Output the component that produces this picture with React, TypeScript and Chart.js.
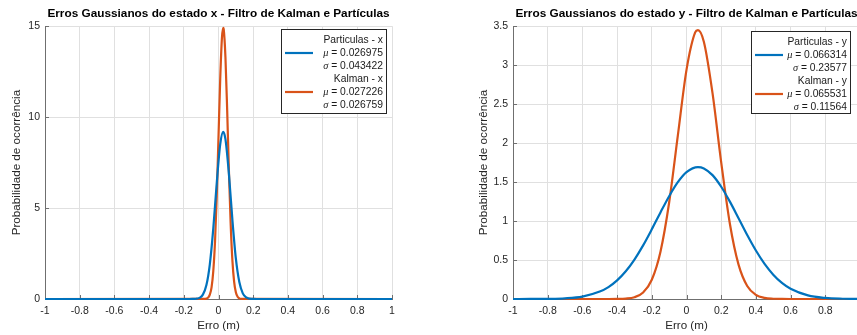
import React, { useEffect, useRef } from "react";
import { Chart, registerables } from "chart.js";

Chart.register(...registerables);

const FONT = "'Liberation Sans', Arial, Helvetica, sans-serif";
const BLUE = "#0072BD";
const ORANGE = "#D95319";

// ---------- Left chart (state x) ----------
const titleX = "Erros Gaussianos do estado x - Filtro de Kalman e Partículas";
const partXerr = [-1, -0.17, -0.15, -0.13, -0.11, -0.09, -0.07, -0.05, -0.03, -0.01, 0.01, 0.027, 0.04, 0.06, 0.08, 0.1, 0.12, 0.14, 0.16, 0.18, 0.2, 0.22, 1];
const partXprob = [0, 0.0003, 0.002, 0.013, 0.063, 0.24, 0.75, 1.91, 3.88, 6.39, 8.51, 9.19, 8.79, 6.88, 4.36, 2.23, 0.93, 0.31, 0.084, 0.018, 0.003, 0.0004, 0];
const kalXerr = [-1, -0.08, -0.07, -0.06, -0.05, -0.04, -0.03, -0.02, -0.01, 0, 0.01, 0.02, 0.027, 0.03, 0.04, 0.05, 0.06, 0.07, 0.08, 0.09, 0.1, 0.11, 0.12, 0.13, 0.14, 1];
const kalXprob = [0, 0.004, 0.02, 0.076, 0.235, 0.64, 1.54, 3.16, 5.68, 8.91, 12.13, 14.38, 14.91, 14.83, 13.3, 10.38, 7.05, 4.16, 2.14, 0.96, 0.37, 0.125, 0.037, 0.01, 0.002, 0];
const legendNamesX = ["Particulas - x", "Kalman - x"];
const legendMuX = ["0.026975", "0.027226"];
const legendSigmaX = ["0.043422", "0.026759"];
const yMaxX = 15;
const yStepX = 5;

// ---------- Right chart (state y) ----------
const titleY = "Erros Gaussianos do estado y - Filtro de Kalman e Partículas";
const partYerr = [-1, -0.9, -0.8, -0.7, -0.6, -0.5, -0.45, -0.4, -0.35, -0.3, -0.25, -0.2, -0.15, -0.1, -0.05, 0, 0.066, 0.1, 0.15, 0.2, 0.25, 0.3, 0.35, 0.4, 0.45, 0.5, 0.55, 0.6, 0.7, 0.8, 0.9, 1];
const partYprob = [0.0001, 0.0004, 0.002, 0.0087, 0.031, 0.095, 0.153, 0.239, 0.356, 0.506, 0.688, 0.894, 1.111, 1.319, 1.498, 1.627, 1.692, 1.675, 1.589, 1.44, 1.249, 1.036, 0.821, 0.622, 0.45, 0.312, 0.206, 0.131, 0.0457, 0.0134, 0.0033, 0.0007];
const kalYerr = [-1, -0.45, -0.4, -0.35, -0.3, -0.25, -0.2, -0.15, -0.1, -0.05, 0, 0.05, 0.066, 0.1, 0.15, 0.2, 0.25, 0.3, 0.35, 0.4, 0.45, 0.5, 0.55, 0.6, 1];
const kalYprob = [0, 0.0002, 0.001, 0.0054, 0.023, 0.083, 0.247, 0.607, 1.238, 2.095, 2.94, 3.42, 3.45, 3.3, 2.64, 1.753, 0.966, 0.441, 0.167, 0.053, 0.0137, 0.003, 0.0005, 0.0001, 0];
const legendNamesY = ["Particulas - y", "Kalman - y"];
const legendMuY = ["0.066314", "0.065531"];
const legendSigmaY = ["0.23577", "0.11564"];
const yMaxY = 3.5;
const yStepY = 0.5;

// ---------- shared axis text ----------
const xMin = -1;
const xMax = 1;
const xStep = 0.2;
const xAxisTitle = "Erro (m)";
const yAxisTitle = "Probabilidade de ocorrência";

const toPts = (xs: number[], ys: number[]) => xs.map((x, i) => ({ x, y: ys[i] }));

const insideTicks = {
  id: "insideTicks",
  beforeDatasetsDraw(chart: any) {
    const { ctx, chartArea, scales } = chart;
    const sx = scales.x;
    const sy = scales.y;
    ctx.save();
    ctx.strokeStyle = "#6f6f6f";
    ctx.lineWidth = 1;
    ctx.beginPath();
    sx.ticks.forEach((t: any) => {
      const px = Math.round(sx.getPixelForValue(t.value)) + 0.5;
      ctx.moveTo(px, chartArea.bottom);
      ctx.lineTo(px, chartArea.bottom - 4);
    });
    sy.ticks.forEach((t: any) => {
      const py = Math.round(sy.getPixelForValue(t.value)) + 0.5;
      ctx.moveTo(chartArea.left, py);
      ctx.lineTo(chartArea.left + 4, py);
    });
    ctx.stroke();
    ctx.restore();
  },
};

function makeLegend(names: string[], mus: string[], sigmas: string[], box: { x: number; y: number; w: number; h: number }) {
  return {
    id: "matlabLegend",
    afterDraw(chart: any) {
      const ctx = chart.ctx;
      const { x, y, w, h } = box;
      ctx.save();
      ctx.fillStyle = "#ffffff";
      ctx.fillRect(x, y, w, h);
      ctx.strokeStyle = "#262626";
      ctx.lineWidth = 1;
      ctx.strokeRect(x + 0.5, y + 0.5, w, h);
      const colors = [BLUE, ORANGE];
      const rowGap = 13;
      const xr = x + w - 3;
      ctx.textBaseline = "middle";
      names.forEach((name, i) => {
        const r0 = y + 11 + i * 3 * rowGap;
        ctx.fillStyle = "#1a1a1a";
        ctx.font = `10.3px ${FONT}`;
        ctx.textAlign = "right";
        ctx.fillText(name, xr, r0);
        const lines: [string, string][] = [
          ["\u03bc", " = " + mus[i]],
          ["\u03c3", " = " + sigmas[i]],
        ];
        lines.forEach(([sym, rest], j) => {
          const ry = r0 + (j + 1) * rowGap;
          ctx.font = `10.3px ${FONT}`;
          ctx.textAlign = "right";
          ctx.fillText(rest, xr, ry);
          const rw = ctx.measureText(rest).width;
          ctx.font = `italic 10.3px 'Liberation Serif', 'DejaVu Serif', serif`;
          ctx.fillText(sym, xr - rw, ry);
        });
        const ly = r0 + rowGap;
        ctx.strokeStyle = colors[i];
        ctx.lineWidth = 2.2;
        ctx.beginPath();
        ctx.moveTo(x + 4, ly);
        ctx.lineTo(x + 32, ly);
        ctx.stroke();
      });
      ctx.restore();
    },
  };
}

function buildConfig(p: {
  title: string;
  partX: number[];
  partY: number[];
  kalX: number[];
  kalY: number[];
  yMax: number;
  yStep: number;
  padLeft: number;
  padRight: number;
  yAxisWidth: number;
  legend: any;
}) {
  return {
    type: "line" as const,
    data: {
      datasets: [
        {
          label: "Particulas",
          data: toPts(p.partX, p.partY),
          borderColor: BLUE,
          backgroundColor: BLUE,
          borderWidth: 2.2,
          pointRadius: 0,
          cubicInterpolationMode: "monotone" as const,
          clip: false as any,
        },
        {
          label: "Kalman",
          data: toPts(p.kalX, p.kalY),
          borderColor: ORANGE,
          backgroundColor: ORANGE,
          borderWidth: 2.2,
          pointRadius: 0,
          cubicInterpolationMode: "monotone" as const,
          clip: false as any,
        },
      ],
    },
    options: {
      animation: false as const,
      responsive: false,
      devicePixelRatio: 1,
      layout: { padding: { left: p.padLeft, right: p.padRight, top: 0, bottom: 0 } },
      plugins: {
        legend: { display: false },
        tooltip: { enabled: false },
        title: {
          display: true,
          text: p.title,
          fullSize: false,
          color: "#000000",
          font: { family: FONT, size: 11.8, weight: "bold" as const },
          padding: { top: 7, bottom: 5 },
        },
      },
      scales: {
        x: {
          type: "linear" as const,
          min: xMin,
          max: xMax,
          afterFit: (s: any) => {
            s.height = 36;
          },
          ticks: {
            stepSize: xStep,
            padding: 6,
            color: "#262626",
            font: { family: FONT, size: 10.5 },
            maxRotation: 0,
            callback: (v: any) => String(Number(Number(v).toFixed(1))),
          },
          grid: { color: "#e0e0e0", drawTicks: false },
          border: { display: true, color: "#6f6f6f", width: 1 },
          title: {
            display: true,
            text: xAxisTitle,
            color: "#262626",
            font: { family: FONT, size: 11.6 },
            padding: { top: 0, bottom: 2 },
          },
        },
        y: {
          type: "linear" as const,
          min: 0,
          max: p.yMax,
          afterFit: (s: any) => {
            s.width = p.yAxisWidth;
          },
          ticks: {
            stepSize: p.yStep,
            padding: 5,
            color: "#262626",
            font: { family: FONT, size: 10.5 },
            callback: (v: any) => String(Number(Number(v).toFixed(1))),
          },
          grid: { color: "#e0e0e0", drawTicks: false },
          border: { display: true, color: "#6f6f6f", width: 1 },
          title: {
            display: true,
            text: yAxisTitle,
            color: "#262626",
            font: { family: FONT, size: 11.7 },
            padding: { top: 0, bottom: 0 },
          },
        },
      },
    },
    plugins: [insideTicks, p.legend],
  };
}

function Panel({ config, width, left }: { config: any; width: number; left: number }) {
  const ref = useRef<HTMLCanvasElement | null>(null);
  useEffect(() => {
    if (!ref.current) return;
    const chart = new Chart(ref.current, config);
    return () => chart.destroy();
  }, [config]);
  return (
    <canvas
      ref={ref}
      width={width}
      height={335}
      style={{ position: "absolute", left, top: 0, width, height: 335 }}
    />
  );
}

const leftConfig = buildConfig({
  title: titleX,
  partX: partXerr,
  partY: partXprob,
  kalX: kalXerr,
  kalY: kalXprob,
  yMax: yMaxX,
  yStep: yStepX,
  padLeft: 10,
  padRight: 36,
  yAxisWidth: 35,
  legend: makeLegend(legendNamesX, legendMuX, legendSigmaX, { x: 281, y: 29, w: 105, h: 84 }),
});

const rightConfig = buildConfig({
  title: titleY,
  partX: partYerr,
  partY: partYprob,
  kalX: kalYerr,
  kalY: kalYprob,
  yMax: yMaxY,
  yStep: yStepY,
  padLeft: 49,
  padRight: 48,
  yAxisWidth: 36,
  legend: makeLegend(legendNamesY, legendMuY, legendSigmaY, { x: 323, y: 31, w: 99, h: 82 }),
});

export default function App() {
  return (
    <div
      style={{
        position: "fixed",
        left: 0,
        top: 0,
        width: 857,
        height: 335,
        overflow: "hidden",
        background: "#ffffff",
      }}
    >
      <Panel config={leftConfig} width={428} left={0} />
      <Panel config={rightConfig} width={480} left={428} />
    </div>
  );
}
